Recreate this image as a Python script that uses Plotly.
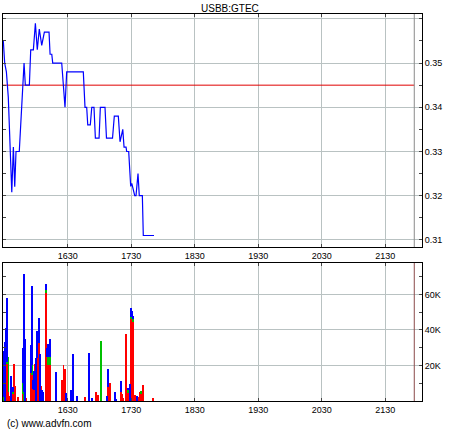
import plotly.graph_objects as go

# ---------------- data (times are minutes since midnight) ----------------
price_times = [929.1, 930.4, 932.0, 933.8, 937.1, 938.6, 939.9, 941.1, 944.2, 948.7,
               949.9, 953.7, 955.0, 957.5, 959.4, 961.2, 963.1, 965.4, 967.9, 972.3,
               973.3, 974.9, 975.8, 984.3, 987.4, 989.0, 1004.7, 1006.3, 1007.9, 1008.9,
               1011.3, 1012.7, 1014.8, 1016.1, 1019.6, 1020.8, 1025.2, 1026.6, 1032.3, 1034.0,
               1037.8, 1039.4, 1042.0, 1043.2, 1045.1, 1045.7, 1047.6, 1049.5, 1050.5, 1053.3,
               1054.5, 1056.4, 1057.6, 1060.5, 1061.4, 1071.5]
price_values = [0.355, 0.350, 0.348, 0.3423, 0.3208, 0.331, 0.322, 0.330, 0.330, 0.350,
                0.345, 0.345, 0.353, 0.353, 0.359, 0.353, 0.3577, 0.354, 0.357, 0.357,
                0.352, 0.352, 0.350, 0.350, 0.340, 0.348, 0.348, 0.340, 0.340, 0.336,
                0.336, 0.340, 0.340, 0.333, 0.333, 0.340, 0.340, 0.333, 0.333, 0.338,
                0.338, 0.3322, 0.335, 0.331, 0.331, 0.330, 0.330, 0.3221, 0.3228, 0.320,
                0.320, 0.325, 0.320, 0.320, 0.311, 0.311]
reference_price = 0.345
close_time = 1317.5

vol_times = [930, 931, 932, 933, 934, 935, 936, 937, 938, 939,
             940, 943, 948, 949, 950, 951, 955, 956, 957, 958,
             959, 960, 961, 963, 964, 965, 966, 967, 969, 970,
             971, 973, 979, 985, 986, 987, 988, 993, 995, 999,
             1006, 1010, 1013, 1017, 1019, 1021, 1027, 1028, 1030, 1035,
             1036, 1040, 1041, 1042, 1045, 1047, 1049, 1050, 1051, 1052,
             1053, 1054, 1055, 1057, 1058, 1059, 1061, 1071]
vol_red = [0, 0, 21, 21, 5, 3, 0, 5, 4, 21,
           8.5, 2, 4, 0, 0, 1.5, 16, 14.5, 7, 6,
           21, 0, 24, 32.7, 0, 8.5, 0, 0, 61, 24.8,
           20, 20, 0, 11.6, 20.5, 18, 0, 0, 0, 0,
           2.3, 0, 0, 5, 3.2, 0, 0, 7.9, 10, 0,
           0, 5, 4, 1.5, 37.6, 5, 0, 46, 46, 45,
           3.6, 3.6, 0, 2, 5, 4, 9, 1.7]
vol_green = [2, 0, 1, 1, 20, 0, 0, 0, 1, 0,
             0, 0, 6, 5, 0, 0, 0, 6, 0, 0,
             0, 0, 0, 0, 0, 0, 0, 0, 1.5, 0,
             4.8, 4.8, 0, 0, 0, 0, 0, 0, 0, 0,
             0, 0, 0, 0, 0, 34, 0, 0, 0, 0,
             0, 0, 0, 0, 0, 1, 0, 1.5, 1.5, 1,
             0, 0, 0, 0, 0, 1.5, 0, 0]
vol_blue = [26, 33, 19, 36, 0, 0, 14, 0, 3, 0,
            0, 0, 20, 66.5, 35, 0, 15.4, 44.5, 5, 11,
            0, 24, 15.4, 14.1, 26.7, 0, 6, 5, 3.5, 5.2,
            7.2, 10.2, 16.5, 0, 0, 0, 4.7, 6.4, 26.7, 2.8,
            0, 27, 1.7, 0, 0, 0, 2.8, 10.1, 0, 5,
            1, 6.3, 0, 0, 0, 1.5, 9.7, 5, 3, 2,
            0, 0, 3, 0, 0, 0, 0, 0]

x_tick_vals = [990, 1050, 1110, 1170, 1230, 1290]
x_tick_text = ["1630", "1730", "1830", "1930", "2030", "2130"]
price_tick_vals = [0.31, 0.32, 0.33, 0.34, 0.35, 0.36]
price_tick_text = ["0.31", "0.32", "0.33", "0.34", "0.35", ""]
vol_tick_vals = [20000, 40000, 60000]
vol_tick_text = ["20K", "40K", "60K"]

title_text = "USBB:GTEC"
credit_text = "(c) www.advfn.com"

# ---------------- figure ----------------
X_RANGE = [928.8, 1324.8]
FONT = "Liberation Sans, Arial, sans-serif"
GRID = "#b9c2c2"

fig = go.Figure()

fig.add_trace(go.Scatter(
    x=[X_RANGE[0], close_time], y=[reference_price, reference_price],
    mode="lines", line=dict(color="#e00000", width=1), xaxis="x", yaxis="y",
    hoverinfo="skip", showlegend=False))

fig.add_trace(go.Scatter(
    x=price_times, y=price_values, mode="lines",
    line=dict(color="#0000ff", width=1.2), xaxis="x", yaxis="y", showlegend=False))

for vals, col in [(vol_red, "#ff0000"), (vol_green, "#00c000"), (vol_blue, "#0000ff")]:
    fig.add_trace(go.Bar(
        x=vol_times, y=[v * 1000 for v in vals], width=0.9,
        marker=dict(color=col, line=dict(width=0)),
        xaxis="x2", yaxis="y2", showlegend=False))

axis_common = dict(showline=True, linecolor="black", linewidth=1, mirror="ticks",
                   gridcolor=GRID, gridwidth=1, zeroline=False,
                   tickfont=dict(family=FONT, size=9, color="black"))

fig.update_layout(
    width=460, height=430,
    margin=dict(l=3, r=38, t=14, b=29),
    paper_bgcolor="white", plot_bgcolor="white",
    barmode="stack", bargap=0,
    xaxis=dict(domain=[0, 1], range=X_RANGE, tickvals=x_tick_vals, ticktext=x_tick_text,
               ticks="inside", ticklen=3, anchor="y", **axis_common),
    yaxis=dict(domain=[0.398, 1], range=[0.3084, 0.3611], side="right",
               tickvals=price_tick_vals, ticktext=price_tick_text,
               ticks="inside", ticklen=3, anchor="x",
               minor=dict(ticks="inside", ticklen=3, dtick=0.005, tick0=0.31, showgrid=False),
               **axis_common),
    xaxis2=dict(domain=[0, 1], range=X_RANGE, tickvals=x_tick_vals, ticktext=x_tick_text,
                ticks="inside", ticklen=3, anchor="y2", **axis_common),
    yaxis2=dict(domain=[0, 0.3566], range=[0, 77700], side="right",
                tickvals=vol_tick_vals, ticktext=vol_tick_text,
                ticks="inside", ticklen=3, anchor="x2",
                minor=dict(ticks="inside", ticklen=3, dtick=10000, tick0=0, showgrid=False),
                **axis_common),
    shapes=[
        dict(type="line", xref="x", yref="y domain", x0=close_time, x1=close_time,
             y0=0, y1=1, line=dict(color="#8a8a8a", width=1)),
        dict(type="line", xref="x2", yref="y2 domain", x0=close_time, x1=close_time,
             y0=0, y1=1, line=dict(color="#8a4a4a", width=1)),
    ],
    annotations=[
        dict(text=title_text, xref="paper", yref="paper", x=0.542, y=1.0155,
             xanchor="center", yanchor="middle", showarrow=False,
             font=dict(family=FONT, size=10, color="black")),
        dict(text=credit_text, xref="paper", yref="paper", x=0.004, y=-0.057,
             xanchor="left", yanchor="middle", showarrow=False,
             font=dict(family=FONT, size=10, color="black")),
    ],
)

fig.write_html("out.html", config={"displayModeBar": False},
               post_script="document.body.style.margin='0px';")
